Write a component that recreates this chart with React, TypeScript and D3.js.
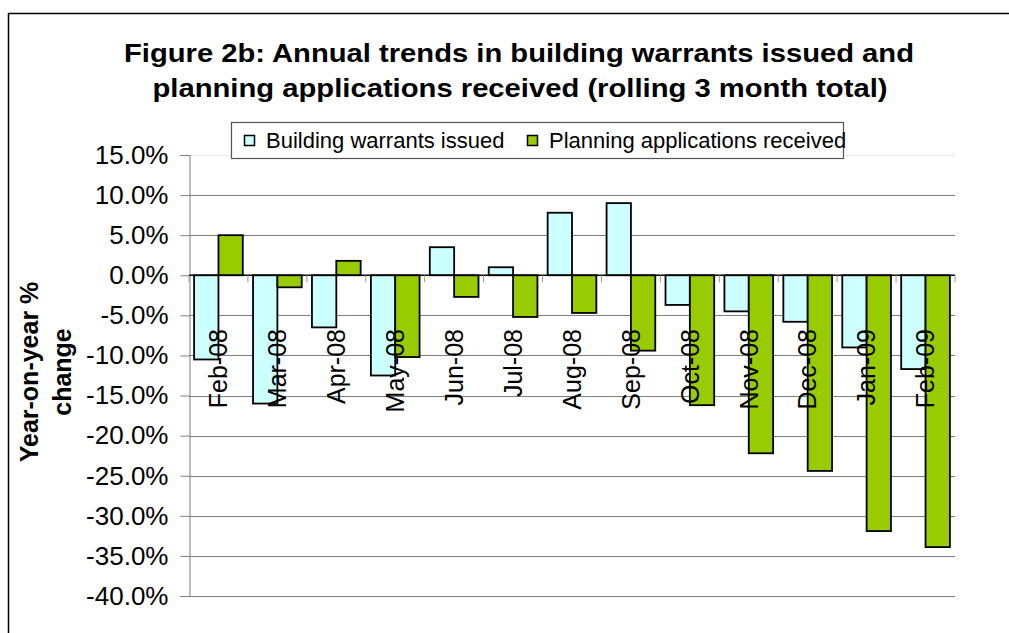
import React, { useEffect, useRef } from 'react';
import * as d3 from 'd3';

const categories = [
    'Feb-08', 'Mar-08', 'Apr-08', 'May-08', 'Jun-08', 'Jul-08', 'Aug-08',
    'Sep-08', 'Oct-08', 'Nov-08', 'Dec-08', 'Jan-09', 'Feb-09',
];
const warrants = [-10.5, -16.0, -6.5, -12.5, 3.5, 1.0, 7.8, 9.0, -3.7, -4.5, -5.8, -9.0, -11.7];
const planning = [5.0, -1.5, 1.8, -10.2, -2.7, -5.2, -4.7, -9.4, -16.2, -22.2, -24.4, -31.9, -33.9];
const yTicks = [15, 10, 5, 0, -5, -10, -15, -20, -25, -30, -35, -40];
const seriesNames = ['Building warrants issued', 'Planning applications received'];
const titleLines = [
    'Figure 2b: Annual trends in building warrants issued and',
    'planning applications received (rolling 3 month total)',
];
const yTitleLines = ['Year-on-year %', 'change'];

export default function App() {
    const svgRef = useRef(null);
    const width = 1009,
        height = 633;
    const plot = { left: 189, right: 955, top: 155, bottom: 596 };
    const colors = ['#CCFFFF', '#99CC00'];
    const font = 'Arial, "Liberation Sans", sans-serif';

    useEffect(() => {
        const svg = d3.select(svgRef.current);
        svg.selectAll('*').remove();

        // outer frame (runs off the right and bottom edge)
        svg.append('rect')
            .attr('x', 8.5)
            .attr('y', 13.5)
            .attr('width', 1100)
            .attr('height', 700)
            .attr('fill', 'white')
            .attr('stroke', '#000')
            .attr('stroke-width', 1.5);

        // title
        svg.append('g')
            .selectAll('text')
            .data(titleLines)
            .join('text')
            .attr('x', (d, i) => (i === 0 ? 519 : 520))
            .attr('y', (d, i) => 62 + i * 35)
            .attr('text-anchor', 'middle')
            .attr('textLength', (d, i) => (i === 0 ? 790 : 735))
            .attr('lengthAdjust', 'spacingAndGlyphs')
            .style('font-family', font)
            .style('font-weight', 'bold')
            .style('font-size', '26px')
            .text((d) => d);

        const y = d3.scaleLinear().domain([-40, 15]).range([plot.bottom, plot.top]);
        const x0 = d3.scaleBand().domain(categories).range([plot.left, plot.right]).padding(0);
        const x1 = d3
            .scaleBand()
            .domain([0, 1])
            .range([0, x0.bandwidth()])
            .paddingInner(0)
            .paddingOuter(0.21);

        // gridlines
        svg.append('g')
            .selectAll('line')
            .data(yTicks)
            .join('line')
            .attr('x1', plot.left)
            .attr('x2', plot.right)
            .attr('y1', (d) => Math.round(y(d)) + 0.5)
            .attr('y2', (d) => Math.round(y(d)) + 0.5)
            .attr('stroke', (d) => (d === 15 ? '#e6e6e6' : '#7f7f7f'))
            .attr('stroke-width', 1);

        // y axis
        const pct = (d) => (d < 0 ? '-' : '') + Math.abs(d).toFixed(1) + '%';
        const yAxis = svg
            .append('g')
            .attr('transform', `translate(${plot.left + 0.5},0)`)
            .call(d3.axisLeft(y).tickValues(yTicks).tickSize(9).tickPadding(12).tickFormat(pct));
        yAxis.select('.domain').attr('stroke', '#7f7f7f');
        yAxis.selectAll('.tick line').attr('stroke', '#7f7f7f');
        yAxis.selectAll('.tick text')
            .style('font-family', font)
            .style('font-size', '26px')
            .attr('fill', '#000');

        // bars
        const groups = svg
            .append('g')
            .selectAll('g')
            .data(categories)
            .join('g')
            .attr('transform', (d) => `translate(${x0(d)},0)`);

        groups
            .selectAll('rect')
            .data((d, i) => [warrants[i], planning[i]])
            .join('rect')
            .attr('x', (d, j) => x1(j))
            .attr('y', (d) => y(Math.max(0, d)))
            .attr('width', x1.bandwidth())
            .attr('height', (d) => Math.abs(y(d) - y(0)))
            .attr('fill', (d, j) => colors[j])
            .attr('stroke', '#000')
            .attr('stroke-width', 1.8);

        // category axis on the zero line
        const xAxis = svg
            .append('g')
            .attr('transform', `translate(0,${y(0)})`);
        xAxis.append('line')
            .attr('x1', plot.left)
            .attr('x2', plot.right)
            .attr('stroke', '#000')
            .attr('stroke-width', 1.5);
        xAxis.selectAll('.cat-tick')
            .data(d3.range(categories.length + 1))
            .join('line')
            .attr('class', 'cat-tick')
            .attr('x1', (i) => plot.left + i * x0.step())
            .attr('x2', (i) => plot.left + i * x0.step())
            .attr('y1', 0)
            .attr('y2', 7)
            .attr('stroke', '#999');

        // category labels, rotated
        svg.append('g')
            .selectAll('text')
            .data(categories)
            .join('text')
            .attr('transform', (d) => `translate(${x0(d) + x0.bandwidth() / 2},329) rotate(-90)`)
            .attr('text-anchor', 'end')
            .attr('dy', '0.35em')
            .style('font-family', font)
            .style('font-size', '25px')
            .text((d) => d);

        // y axis title
        svg.append('g')
            .attr('transform', 'translate(47,372) rotate(-90)')
            .selectAll('text')
            .data(yTitleLines)
            .join('text')
            .attr('x', 0)
            .attr('y', (d, i) => -9 + i * 33)
            .attr('text-anchor', 'middle')
            .style('font-family', font)
            .style('font-weight', 'bold')
            .style('font-size', '25px')
            .text((d) => d);

        // legend
        const legend = svg.append('g');
        legend.append('rect')
            .attr('x', 231.5)
            .attr('y', 122.5)
            .attr('width', 612)
            .attr('height', 36)
            .attr('fill', 'white')
            .attr('stroke', '#555')
            .attr('stroke-width', 1.2);
        const legendX = [244, 527];
        const items = legend
            .selectAll('g')
            .data(seriesNames)
            .join('g')
            .attr('transform', (d, i) => `translate(${legendX[i]},0)`);
        items.append('rect')
            .attr('x', 0.5)
            .attr('y', 135.5)
            .attr('width', 10)
            .attr('height', 10)
            .attr('fill', (d, i) => colors[i])
            .attr('stroke', '#000')
            .attr('stroke-width', 1.5);
        items.append('text')
            .attr('x', 22)
            .attr('y', 148)
            .style('font-family', font)
            .style('font-size', '22px')
            .text((d) => d);
    }, []);

    return (
        <div style={{ position: 'absolute', left: 0, top: 0 }}>
            <svg ref={svgRef} width={width} height={height} style={{ display: 'block' }} />
        </div>
    );
}
